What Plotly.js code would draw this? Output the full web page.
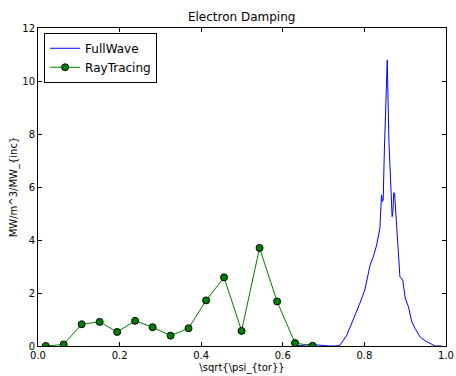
<!DOCTYPE html>
<html>
<head>
<meta charset="utf-8">
<script src="https://cdn.plot.ly/plotly-3.0.1.min.js"></script>
<style>html,body{margin:0;padding:0;background:#fff;}#chart{width:456px;height:376px;}</style>
</head>
<body>
<div id="chart"></div>
<script>
const titleText = "Electron Damping";
const xTitle = "\\sqrt{\\psi_{tor}}";
const yTitle = "MW/m^3/MW_{inc}";

const fullWaveX = [0.632, 0.645, 0.66, 0.672, 0.685, 0.70, 0.715, 0.73, 0.74, 0.757, 0.773, 0.789, 0.801, 0.814, 0.822, 0.830, 0.838, 0.842, 0.844, 0.846, 0.849, 0.856, 0.860, 0.864, 0.868, 0.870, 0.872, 0.874, 0.877, 0.881, 0.887, 0.894, 0.900, 0.908, 0.916, 0.924, 0.936, 0.949, 0.965, 0.973, 0.99];
const fullWaveY = [0.0, 0.02, 0.04, 0.06, 0.04, 0.01, 0.0, 0.0, 0.03, 0.41, 0.98, 1.62, 2.11, 3.06, 3.37, 3.81, 4.44, 5.7, 5.45, 5.5, 7.4, 10.79, 7.77, 6.26, 4.88, 5.1, 5.79, 5.76, 5.1, 4.25, 2.62, 2.49, 1.81, 1.48, 0.92, 0.67, 0.35, 0.20, 0.08, 0.0, 0.0];

const rayX = [0.019, 0.063, 0.107, 0.151, 0.194, 0.238, 0.281, 0.325, 0.369, 0.412, 0.456, 0.499, 0.543, 0.586, 0.630, 0.673];
const rayY = [0.0, 0.06, 0.82, 0.91, 0.53, 0.95, 0.71, 0.39, 0.67, 1.72, 2.59, 0.57, 3.70, 1.68, 0.11, 0.01];

const font = "DejaVu Sans, sans-serif";

const traces = [
  {x: fullWaveX, y: fullWaveY, mode: "lines", name: "FullWave",
   line: {color: "#0000ff", width: 1}},
  {x: rayX, y: rayY, mode: "lines+markers", name: "RayTracing",
   line: {color: "#008000", width: 1},
   marker: {color: "#008000", size: 7, line: {color: "#000000", width: 1}}}
];

const axisCommon = {
  showline: true, linecolor: "#000", linewidth: 1, mirror: "allticks",
  ticks: "inside", ticklen: 4, tickcolor: "#000", showgrid: false, zeroline: false,
  tickfont: {family: font, size: 10, color: "#000"}
};

const layout = {
  width: 456, height: 376,
  margin: {l: 38, r: 10, t: 28, b: 30},
  paper_bgcolor: "#fff", plot_bgcolor: "#fff",
  title: {text: titleText, font: {family: font, size: 12, color: "#000"}, x: 0.53, xanchor: "center", y: 0.955, yanchor: "middle"},
  xaxis: Object.assign({}, axisCommon, {range: [0, 1], tickvals: [0, 0.2, 0.4, 0.6, 0.8, 1.0], ticktext: ["0.0","0.2","0.4","0.6","0.8","1.0"],
    title: {text: xTitle, font: {family: font, size: 10, color: "#000"}, standoff: 3}}),
  yaxis: Object.assign({}, axisCommon, {range: [0, 12], tickvals: [0, 2, 4, 6, 8, 10, 12],
    title: {text: yTitle, font: {family: font, size: 10, color: "#000"}, standoff: 2}}),
  showlegend: true,
  legend: {x: 0.015, y: 0.985, xanchor: "left", yanchor: "top", bgcolor: "#fff",
    bordercolor: "#000", borderwidth: 1, font: {family: font, size: 12, color: "#000"},
    tracegroupgap: 0, itemwidth: 30}
};

Plotly.newPlot("chart", traces, layout, {displayModeBar: false, staticPlot: true});
</script>
</body>
</html>
